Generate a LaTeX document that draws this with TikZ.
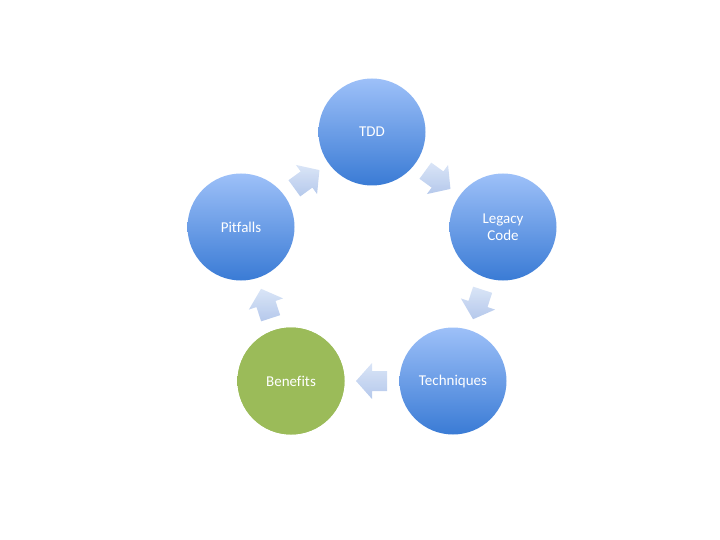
\documentclass[tikz,border=0pt]{standalone}
\usepackage{fontspec}
\setmainfont[Ligatures=NoCommon]{Carlito}
\usetikzlibrary{calc}
\definecolor{bluetop}{HTML}{9DC0F8}
\definecolor{bluebot}{HTML}{3A7BD5}
\definecolor{greenfill}{HTML}{9BBB59}
\definecolor{arrtop}{HTML}{D3E0F5}
\definecolor{arrbot}{HTML}{A8BFE8}
\tikzset{
  bubble/.style={circle, minimum size=107pt, inner sep=0pt, text=white,
    top color=bluetop, bottom color=bluebot, draw=none,
    font=\fontsize{15}{17}\selectfont, align=center},
  greenbubble/.style={bubble, top color=greenfill, bottom color=greenfill, fill=greenfill},
  blockarrow/.style={top color=arrtop, bottom color=arrbot, draw=none, fill opacity=0.85},
  pics/barrow/.style={code={
    \path[blockarrow] (-15,-10) -- (0,-10) -- (0,-18) -- (16,0) -- (0,18) -- (0,10) -- (-15,10) -- cycle;
  }}
}
\begin{document}
\begin{tikzpicture}[x=1pt,y=-1pt]
\useasboundingbox (0,0) rectangle (720,540);
\node[bubble] (tdd) at (372,132) {TDD};
\node[bubble] (legacy) at (503,227) {Legacy\\Code};
\node[bubble] (tech) at (453,381) {Techniques};
\node[greenbubble] (ben) at (291,381) {Benefits};
\node[bubble] (pit) at (241,227) {Pitfalls};
\coordinate (m1) at ($(tdd)!0.5!(legacy)$);
\coordinate (m2) at ($(legacy)!0.5!(tech)$);
\coordinate (m3) at ($(tech)!0.5!(ben)$);
\coordinate (m4) at ($(ben)!0.5!(pit)$);
\coordinate (m5) at ($(pit)!0.5!(tdd)$);
\pic[rotate=-36] at (m1) {barrow};
\pic[rotate=-108] at (m2) {barrow};
\pic[rotate=180] at (m3) {barrow};
\pic[rotate=108] at (m4) {barrow};
\pic[rotate=36] at (m5) {barrow};
\end{tikzpicture}
\end{document}
